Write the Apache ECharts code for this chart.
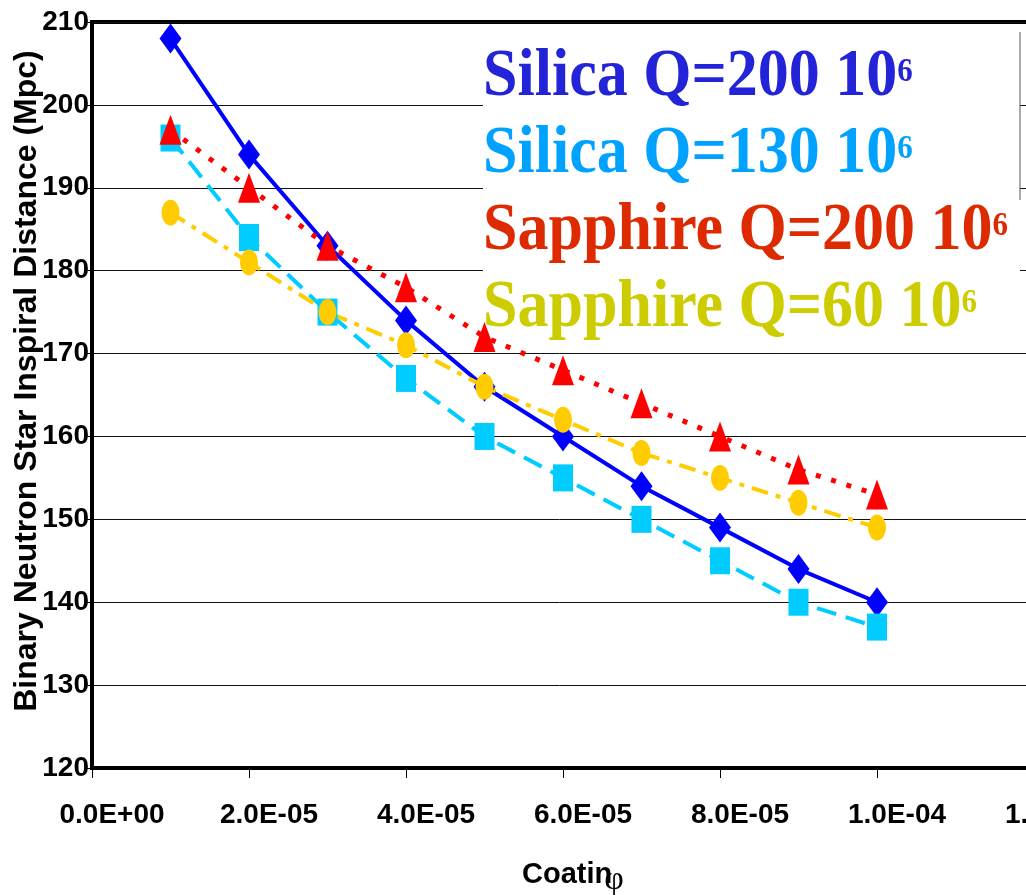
<!DOCTYPE html>
<html>
<head>
<meta charset="utf-8">
<title>Binary Neutron Star Inspiral Distance</title>
<script src="https://cdn.jsdelivr.net/npm/echarts@6.0.0/dist/echarts.min.js"></script>
<style>
  html, body { margin: 0; padding: 0; background: #fff; }
  #main { width: 1026px; height: 895px; }
</style>
</head>
<body>
<div id="main"></div>
<script>
// coating loss angle (x) and inspiral distance in Mpc (y)
var coating = [1e-5, 2e-5, 3e-5, 4e-5, 5e-5, 6e-5, 7e-5, 8e-5, 9e-5, 1e-4];
var silica200 = [208, 194, 183, 174, 166, 160, 154, 149, 144, 140];
var silica130 = [196, 184, 175, 167, 160, 155, 150, 145, 140, 137];
var sapphire200 = [197, 190, 183, 178, 172, 168, 164, 160, 156, 153];
var sapphire60 = [187, 181, 175, 171, 166, 162, 158, 155, 152, 149];
var legendNames = ['Silica Q=200 10', 'Silica Q=130 10', 'Sapphire Q=200 10', 'Sapphire Q=60 10'];
var legendColors = ['#2323d8', '#00a2ff', '#dd2a00', '#cccc00'];

function pairs(ys) {
    return coating.map(function (x, i) { return [x, ys[i]]; });
}

// 2e-5 -> "2.0E-05"
function sci(v) {
    var s = Number(v).toExponential(1).split('e');
    var e = parseInt(s[1], 10);
    var ex = Math.abs(e) < 10 ? '0' + Math.abs(e) : '' + Math.abs(e);
    return s[0] + 'E' + (e < 0 ? '-' : '+') + ex;
}

var myChart = echarts.init(document.getElementById('main'));

var legendText = [];
legendNames.forEach(function (name, i) {
    legendText.push({
        type: 'text',
        x: 483,
        y: 77 + i * 77,
        scaleY: 1.1,
        z: 1,
        style: {
            text: '{main|' + name + '}{sup|6}',
            fill: legendColors[i],
            textAlign: 'left',
            textVerticalAlign: 'middle',
            rich: {
                main: {
                    fontSize: 62,
                    fontWeight: 'bold',
                    fontFamily: '"Liberation Serif", "Times New Roman", serif',
                    lineHeight: 62,
                    fill: legendColors[i]
                },
                sup: {
                    fontSize: 31,
                    fontWeight: 'bold',
                    fontFamily: '"Liberation Serif", "Times New Roman", serif',
                    lineHeight: 30,
                    padding: [11, 0, 0, 0],
                    verticalAlign: 'top',
                    fill: legendColors[i]
                }
            }
        }
    });
});

option = {
    backgroundColor: '#ffffff',
    animation: false,
    grid: {
        left: 92,
        top: 22,
        width: 942,
        height: 746,
        containLabel: false,
        outerBoundsMode: 'none',
        show: true,
        borderColor: '#000',
        borderWidth: 4
    },
    xAxis: {
        type: 'value',
        min: 0,
        max: 1.2e-4,
        interval: 2e-5,
        axisLine: { show: true, onZero: false, lineStyle: { color: '#000', width: 4 } },
        axisTick: { show: true, inside: false, length: 10, lineStyle: { color: '#000', width: 1 } },
        splitLine: { show: false },
        axisLabel: {
            formatter: sci,
            margin: 33,
            padding: [0, 0, 0, 40],
            color: '#000',
            fontSize: 28,
            fontWeight: 'bold',
            fontFamily: '"Liberation Sans", Arial, sans-serif'
        }
    },
    yAxis: {
        type: 'value',
        min: 120,
        max: 210,
        interval: 10,
        axisLine: { show: true, lineStyle: { color: '#000', width: 4 } },
        axisTick: { show: true, inside: false, length: 6, lineStyle: { color: '#000', width: 1 } },
        splitLine: { show: true, lineStyle: { color: '#111', width: 1 } },
        axisLabel: {
            margin: 3,
            color: '#000',
            fontSize: 28,
            fontWeight: 'bold',
            fontFamily: '"Liberation Sans", Arial, sans-serif'
        }
    },
    graphic: [{
        type: 'rect',
        z: 1,
        shape: { x: 483, y: 26, width: 537, height: 318 },
        style: { fill: '#ffffff' }
    }, {
        type: 'line',
        z: 1,
        shape: { x1: 1020, y1: 32, x2: 1020, y2: 200 },
        style: { stroke: '#555', lineWidth: 1 }
    }].concat(legendText).concat([{
        type: 'text',
        x: 27,
        y: 381,
        rotation: Math.PI / 2,
        style: {
            text: 'Binary Neutron Star Inspiral Distance (Mpc)',
            font: 'bold 32px "Liberation Sans", Arial, sans-serif',
            fill: '#000',
            textAlign: 'center',
            textVerticalAlign: 'middle'
        }
    }, {
        type: 'text',
        x: 522,
        y: 875,
        style: {
            text: 'Coatin',
            font: 'bold 29px "Liberation Sans", Arial, sans-serif',
            fill: '#000',
            textAlign: 'left',
            textVerticalAlign: 'middle'
        }
    }, {
        type: 'text',
        x: 614,
        y: 880,
        style: {
            text: 'φ',
            font: '34px "Liberation Serif", "Times New Roman", serif',
            fill: '#000',
            textAlign: 'center',
            textVerticalAlign: 'middle'
        }
    }]),
    series: [{
        name: 'Silica Q=200',
        type: 'line',
        data: pairs(silica200),
        symbol: 'diamond',
        symbolSize: [22, 30],
        itemStyle: { color: '#0000ff' },
        lineStyle: { color: '#0000ff', width: 4, type: 'solid' }
    }, {
        name: 'Silica Q=130',
        type: 'line',
        data: pairs(silica130),
        symbol: 'rect',
        symbolSize: [20, 27],
        itemStyle: { color: '#00ccff' },
        lineStyle: { color: '#00ccff', width: 4, type: [20, 10] }
    }, {
        name: 'Sapphire Q=200',
        type: 'line',
        data: pairs(sapphire200),
        symbol: 'triangle',
        symbolSize: [22, 30],
        itemStyle: { color: '#ff0000' },
        lineStyle: { color: '#ff0000', width: 5, type: [5, 11] }
    }, {
        name: 'Sapphire Q=60',
        type: 'line',
        data: pairs(sapphire60),
        symbol: 'circle',
        symbolSize: [18, 26],
        itemStyle: { color: '#ffcc00' },
        lineStyle: { color: '#ffcc00', width: 4, type: [17, 8, 5, 8] }
    }]
};

myChart.setOption(option);

window.onresize = function () {
    myChart.resize();
};
</script>
</body>
</html>
